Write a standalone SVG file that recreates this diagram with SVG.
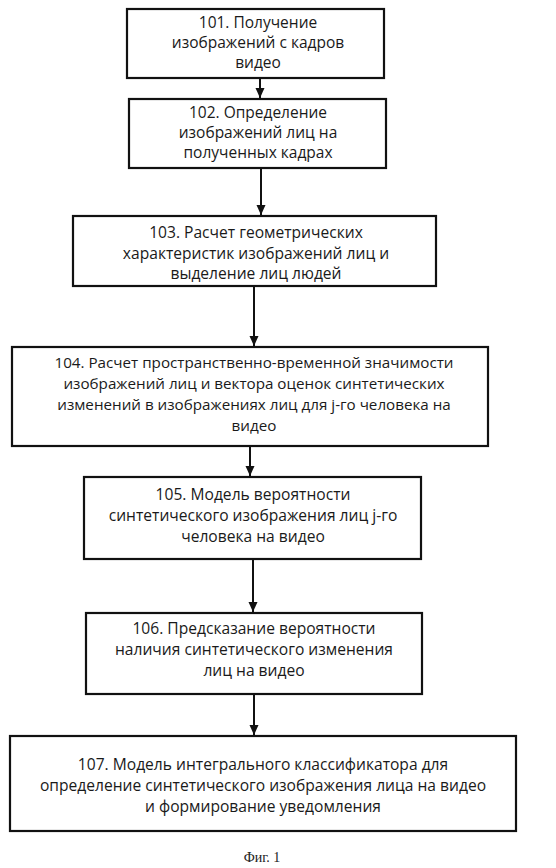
<svg xmlns="http://www.w3.org/2000/svg" width="556" height="868" viewBox="0 0 556 868">
<style>
.box{fill:#fff;stroke:#111;stroke-width:2.2}
.t{font-family:"Open Sans","Noto Sans","DejaVu Sans",sans-serif;font-size:15.6px;fill:#1a1a1a;text-anchor:middle}
.big{font-size:15.5px}
.mid{font-size:15.2px}
.edge{stroke:#111;stroke-width:2;fill:none}
.cap{font-family:"Liberation Serif","DejaVu Serif",serif;font-size:14px;fill:#222;text-anchor:middle}
</style>
<defs>
<marker id="ah" markerUnits="userSpaceOnUse" markerWidth="10" markerHeight="10" refX="10" refY="4.5" orient="auto">
<path d="M0,0 L10,4.5 L0,9 z" fill="#111"/>
</marker>
</defs>
<rect width="556" height="868" fill="#fff"/>
<g id="connectors">
<line class="edge" x1="260" y1="78" x2="260" y2="98" marker-end="url(#ah)"/>
<line class="edge" x1="261" y1="168" x2="261" y2="215" marker-end="url(#ah)"/>
<line class="edge" x1="254" y1="286" x2="254" y2="346" marker-end="url(#ah)"/>
<line class="edge" x1="250" y1="446" x2="250" y2="476" marker-end="url(#ah)"/>
<line class="edge" x1="253" y1="559" x2="253" y2="612" marker-end="url(#ah)"/>
<line class="edge" x1="254" y1="694" x2="254" y2="735" marker-end="url(#ah)"/>
</g>
<g id="n101">
<rect class="box" x="127" y="9" width="257" height="69"/>
<text class="t big" x="258" y="28">101. Получение</text>
<text class="t big" x="258" y="48">изображений с кадров</text>
<text class="t big" x="258" y="68">видео</text>
</g>
<g id="n102">
<rect class="box" x="129" y="99" width="257" height="69"/>
<text class="t big" x="258" y="118">102. Определение</text>
<text class="t big" x="258" y="138">изображений лиц на</text>
<text class="t big" x="258" y="158">полученных кадрах</text>
</g>
<g id="n103">
<rect class="box" x="73" y="216" width="363" height="70"/>
<text class="t" x="256" y="238">103. Расчет геометрических</text>
<text class="t" x="256" y="259">характеристик изображений лиц и</text>
<text class="t" x="256" y="279">выделение лиц людей</text>
</g>
<g id="n104">
<rect class="box" x="12" y="347" width="476" height="99"/>
<text class="t mid" x="254" y="368">104. Расчет пространственно-временной значимости</text>
<text class="t mid" x="254" y="389">изображений лиц и вектора оценок синтетических</text>
<text class="t mid" x="254" y="410">изменений в изображениях лиц для j-го человека на</text>
<text class="t mid" x="254" y="431">видео</text>
</g>
<g id="n105">
<rect class="box" x="84" y="477" width="337" height="82"/>
<text class="t" x="253" y="500">105. Модель вероятности</text>
<text class="t" x="253" y="521">синтетического изображения лиц j-го</text>
<text class="t" x="253" y="542">человека на видео</text>
</g>
<g id="n106">
<rect class="box" x="86" y="613" width="336" height="81"/>
<text class="t" x="254" y="634">106. Предсказание вероятности</text>
<text class="t" x="254" y="655">наличия синтетического изменения</text>
<text class="t" x="254" y="676">лиц на видео</text>
</g>
<g id="n107">
<rect class="box" x="10" y="736" width="506" height="95"/>
<text class="t" x="263" y="770">107. Модель интегрального классификатора для</text>
<text class="t" x="263" y="791">определение синтетического изображения лица на видео</text>
<text class="t" x="263" y="812">и формирование уведомления</text>
</g>
<text class="cap" x="262" y="862">Фиг. 1</text>
</svg>
